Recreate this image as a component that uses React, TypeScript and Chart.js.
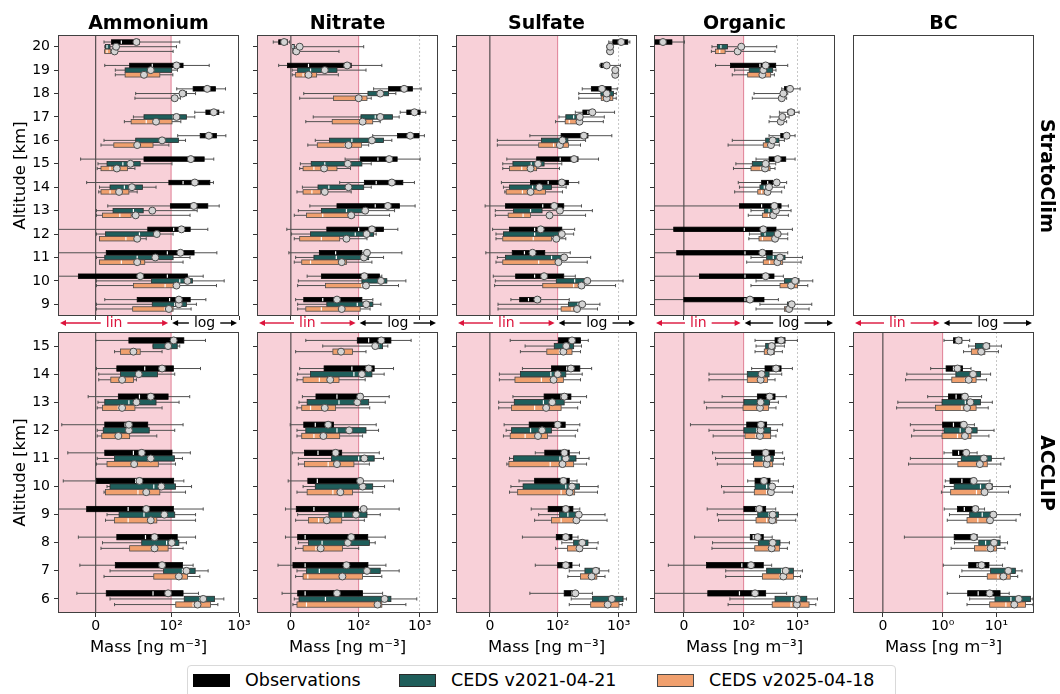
import React, { useEffect, useRef } from "react";
import { Chart, registerables } from "chart.js";

Chart.register(...registerables);

const FONT = "'DejaVu Sans', 'Liberation Sans', sans-serif";
Chart.defaults.font.family = FONT;
Chart.defaults.color = "#000";

// ---------------- data ----------------
const ALT_SC = [20, 19, 18, 17, 16, 15, 14, 13, 12, 11, 10, 9];
const ALT_AC = [15, 14, 13, 12, 11, 10, 9, 8, 7, 6];

const SPECIES = ["Ammonium", "Nitrate", "Sulfate", "Organic", "BC"];
const CAMPAIGNS = ["StratoClim", "ACCLIP"];
const SERIES = ["Observations", "CEDS v2021-04-21", "CEDS v2025-04-18"];
const SERIES_COLORS = ["#000000", "#1f5e5b", "#f0a06e"];
const SERIES_EDGE = ["#000000", "#2a2a2a", "#4a4a4a"];

const LIN_THRESHOLD = [100, 100, 100, 100, 1];
const X_MIN = [-50, -50, -50, -50, -0.5];
const X_MAX = [1000, 2000, 2000, 5000, 50];
const X_TICK_VALUES = [
  [0, 100, 1000],
  [0, 100, 1000],
  [0, 100, 1000],
  [0, 100, 1000],
  [0, 1, 10],
];
const X_TICK_LABELS = [
  ["0", "10²", "10³"],
  ["0", "10²", "10³"],
  ["0", "10²", "10³"],
  ["0", "10²", "10³"],
  ["0", "10⁰", "10¹"],
];
const X_TITLE = "Mass [ng m⁻³]";
const Y_TITLE = "Altitude [km]";

// each row: [whisker low, q1, median, q3, whisker high, mean]
// ---- Ammonium, StratoClim (20 -> 9 km)
const AMM_SC_OBS = [
  [11, 21, 34, 58, 134, 54], [12, 45, 75, 150, 364, 120], [121, 211, 340, 451, 633, 340],
  [223, 325, 416, 505, 598, 425], [125, 268, 351, 466, 640, 360], [-20, 64, 195, 307, 425, 195],
  [-12, 97, 150, 372, 420, 223], [16, 99, 206, 347, 511, 216], [-200, 69, 109, 191, 347, 142],
  [-200, 14, 95, 218, 472, 137], [-200, -23, 95, 174, 297, 59], [12, 55, 98, 191, 325, 130],
];
const AMM_SC_V21 = [
  [12, 13, 15, 19, 120, 27], [26, 39, 72, 102, 124, 73], [53, 134, 147, 168, 229, 147],
  [50, 64, 107, 168, 223, 120], [11, 53, 85, 128, 163, 88], [3, 15, 36, 59, 103, 46],
  [5, 19, 38, 62, 80, 48], [1, 23, 50, 63, 242, 75], [1, 13, 58, 81, 107, 81],
  [1, 12, 55, 107, 190, 79], [1, 74, 134, 206, 605, 174], [1, 75, 113, 168, 236, 130],
];
const AMM_SC_V25 = [
  [12, 12, 15, 20, 107, 25], [26, 39, 63, 85, 106, 64], [52, 102, 112, 123, 137, 113],
  [38, 47, 67, 103, 139, 80], [7, 24, 55, 76, 97, 55], [2, 7, 19, 42, 52, 28],
  [4, 7, 19, 44, 55, 31], [1, 9, 32, 47, 190, 53], [5, 5, 40, 58, 67, 55],
  [5, 5, 34, 65, 150, 55], [1, 50, 92, 127, 466, 120], [1, 49, 92, 107, 197, 97],
];
// ---- Ammonium, ACCLIP (15 -> 6 km)
const AMM_AC_OBS = [
  [0, 44, 107, 154, 321, 109], [1, 28, 65, 108, 271, 88], [-10, 30, 58, 96, 188, 73],
  [-45, 12, 39, 69, 150, 44], [-37, 12, 50, 103, 192, 61], [-43, 1, 53, 109, 154, 58],
  [-100, -12, 43, 108, 297, 67], [-23, 28, 66, 123, 229, 78], [-21, 26, 89, 147, 211, 88],
  [-25, 14, 76, 150, 253, 96],
];
const AMM_AC_V21 = [
  [76, 76, 96, 123, 134, 96], [4, 33, 54, 82, 113, 57], [3, 12, 44, 80, 131, 54],
  [2, 10, 43, 71, 113, 44], [2, 25, 69, 112, 147, 73], [15, 19, 77, 116, 200, 87],
  [15, 31, 64, 113, 229, 91], [9, 61, 94, 130, 168, 102], [19, 90, 147, 226, 351, 168],
  [19, 156, 265, 436, 598, 297],
];
const AMM_AC_V25 = [
  [25, 33, 49, 59, 88, 50], [4, 20, 35, 50, 54, 35], [2, 9, 30, 52, 88, 35],
  [2, 8, 27, 45, 81, 30], [1, 15, 52, 83, 116, 51], [11, 13, 56, 85, 163, 67],
  [13, 25, 43, 81, 229, 73], [7, 45, 74, 96, 150, 78], [11, 77, 127, 174, 265, 130],
  [25, 117, 211, 380, 488, 245],
];
// ---- Nitrate, StratoClim
const NIT_SC_OBS = [
  [-26, -18, -10, -5, -2, -10], [-18, -5, 26, 89, 240, 83], [176, 309, 543, 762, 1057, 557],
  [480, 616, 822, 1018, 1260, 822], [170, 434, 656, 980, 1197, 700], [80, 106, 207, 428, 1018, 317],
  [72, 124, 194, 530, 822, 350], [28, 68, 187, 468, 843, 301], [-6, 53, 100, 256, 439, 165],
  [-3, 42, 66, 113, 511, 137], [24, 45, 113, 220, 240, 124], [7, 19, 47, 113, 171, 68],
];
const NIT_SC_V21 = [
  [2, 2, 3, 5, 121, 13], [2, 10, 29, 68, 132, 50], [19, 142, 212, 309, 407, 226],
  [33, 109, 187, 359, 462, 226], [36, 57, 90, 256, 350, 165], [14, 30, 50, 113, 161, 84],
  [17, 40, 56, 121, 161, 85], [11, 45, 82, 128, 388, 128], [1, 29, 95, 176, 194, 135],
  [7, 34, 67, 146, 256, 122], [11, 113, 232, 290, 595, 232], [10, 53, 98, 171, 232, 133],
];
const NIT_SC_V25 = [
  [3, 3, 4, 7, 71, 8], [2, 7, 18, 38, 70, 26], [13, 63, 100, 137, 161, 100],
  [22, 61, 113, 170, 226, 116], [25, 39, 80, 111, 146, 85], [13, 18, 34, 68, 88, 49],
  [9, 18, 31, 44, 89, 50], [5, 23, 47, 94, 321, 89], [5, 13, 45, 72, 137, 82],
  [5, 16, 29, 82, 165, 75], [10, 51, 113, 146, 450, 132], [10, 22, 45, 106, 154, 75],
];
// ---- Nitrate, ACCLIP
const NIT_AC_OBS = [
  [22, 98, 146, 338, 725, 235], [13, 49, 90, 180, 373, 146], [17, 37, 68, 116, 317, 106],
  [-1, 19, 36, 63, 194, 55], [2, 20, 40, 75, 218, 66], [-4, 25, 39, 106, 373, 106],
  [-8, 8, 34, 100, 462, 121], [-8, 10, 21, 141, 273, 89], [-19, 3, 21, 142, 280, 82],
  [-13, 10, 21, 116, 247, 68],
];
const NIT_AC_V21 = [
  [47, 176, 212, 247, 301, 187], [10, 29, 93, 165, 262, 113], [12, 24, 71, 146, 273, 98],
  [9, 22, 68, 132, 212, 86], [11, 60, 100, 180, 256, 124], [18, 36, 106, 170, 266, 116],
  [10, 56, 77, 137, 226, 96], [11, 26, 46, 150, 187, 84], [9, 23, 42, 226, 462, 137],
  [5, 12, 51, 338, 898, 266],
];
const NIT_AC_V25 = [
  [7, 62, 75, 91, 132, 74], [9, 18, 42, 71, 128, 58], [9, 16, 29, 66, 152, 50],
  [9, 16, 34, 72, 116, 48], [11, 20, 55, 93, 150, 68], [9, 24, 62, 91, 170, 73],
  [7, 26, 41, 75, 124, 53], [7, 18, 37, 76, 100, 44], [7, 18, 25, 116, 240, 76],
  [3, 9, 23, 240, 595, 204],
];
// ---- Sulfate, StratoClim
const SUL_SC_OBS = [
  [689, 803, 1040, 1413, 1528, 1100], [493, 512, 561, 582, 1066, 637], [253, 357, 532, 753, 950, 532],
  [195, 259, 314, 396, 857, 371], [59, 114, 253, 314, 773, 269], [25, 69, 110, 216, 468, 186],
  [17, 60, 86, 150, 222, 117], [-7, 23, 78, 126, 246, 95], [4, 29, 66, 117, 190, 75],
  [-6, 33, 51, 81, 161, 63], [5, 38, 66, 126, 195, 80], [31, 44, 57, 75, 155, 70],
];
const SUL_SC_V21 = [
  [640, 690, 720, 750, 800, 725], [860, 880, 900, 920, 950, 880], [222, 512, 637, 824, 914, 637],
  [105, 136, 183, 208, 582, 231], [11, 76, 110, 147, 287, 120], [19, 34, 61, 80, 117, 71],
  [20, 29, 63, 91, 138, 73], [8, 35, 60, 77, 371, 109], [9, 20, 66, 114, 183, 117],
  [11, 23, 91, 124, 348, 128], [8, 98, 190, 287, 1182, 306], [12, 150, 216, 253, 493, 253],
];
const SUL_SC_V25 = [
  [640, 690, 720, 750, 800, 725], [860, 880, 900, 920, 950, 880], [222, 519, 637, 803, 914, 637],
  [97, 133, 155, 203, 561, 228], [11, 72, 94, 150, 237, 109], [19, 29, 47, 69, 107, 60],
  [22, 24, 48, 82, 120, 60], [8, 27, 49, 60, 287, 88], [9, 19, 64, 91, 136, 98],
  [9, 19, 72, 99, 306, 103], [7, 78, 183, 276, 890, 246], [12, 114, 172, 190, 450, 208],
];
// ---- Sulfate, ACCLIP
const SUL_AC_OBS = [
  [30, 103, 167, 237, 318, 172], [48, 91, 141, 231, 361, 165], [34, 80, 114, 165, 298, 129],
  [21, 58, 99, 133, 231, 100], [67, 81, 128, 155, 228, 129], [43, 66, 114, 155, 208, 124],
  [61, 86, 136, 178, 231, 136], [48, 98, 133, 172, 216, 136], [67, 100, 124, 172, 228, 136],
  [59, 128, 172, 200, 371, 195],
];
const SUL_AC_V21 = [
  [52, 95, 136, 183, 246, 138], [14, 45, 90, 136, 253, 100], [13, 36, 79, 128, 237, 92],
  [24, 32, 60, 91, 213, 77], [29, 35, 109, 200, 327, 136], [31, 49, 136, 228, 461, 172],
  [72, 107, 147, 228, 598, 222], [117, 183, 253, 314, 461, 253], [155, 280, 406, 481, 689, 423],
  [167, 371, 734, 1182, 1344, 773],
];
const SUL_AC_V25 = [
  [45, 84, 107, 172, 237, 124], [14, 37, 76, 124, 237, 94], [13, 32, 66, 114, 213, 83],
  [20, 30, 52, 85, 195, 71], [25, 28, 89, 183, 298, 120], [29, 41, 114, 190, 450, 157],
  [66, 91, 114, 216, 646, 203], [97, 145, 203, 253, 439, 228], [147, 237, 335, 439, 598, 361],
  [155, 348, 637, 1013, 1150, 661],
];
// ---- Organic, StratoClim
const ORG_SC_OBS = [
  [-60, -52, -38, -20, 1, -35], [53, 78, 201, 395, 661, 257], [511, 573, 661, 784, 1122, 730],
  [462, 661, 730, 879, 1074, 762], [297, 490, 589, 710, 905, 631], [170, 297, 443, 607, 905, 430],
  [91, 216, 280, 347, 631, 412], [-200, 93, 216, 497, 679, 373], [-200, -17, 103, 400, 807, 232],
  [-200, -12, 106, 340, 661, 223], [-200, 26, 106, 367, 548, 257], [-200, 0, 106, 239, 443, 131],
];
const ORG_SC_V21 = [
  [47, 56, 62, 73, 412, 96], [85, 127, 216, 347, 400, 232], [156, 511, 548, 607, 661, 548],
  [310, 475, 525, 589, 700, 525], [81, 257, 332, 455, 573, 347], [87, 145, 232, 297, 395, 257],
  [93, 201, 242, 297, 573, 297], [137, 242, 297, 340, 762, 400], [128, 210, 250, 384, 661, 430],
  [137, 268, 356, 589, 1240, 475], [170, 573, 842, 1074, 1931, 905], [201, 651, 730, 784, 1849, 784],
];
const ORG_SC_V25 = [
  [46, 53, 60, 69, 384, 90], [81, 119, 207, 318, 373, 223], [145, 475, 511, 548, 631, 511],
  [297, 443, 482, 548, 631, 490], [74, 232, 280, 356, 462, 322], [83, 137, 210, 310, 384, 250],
  [85, 183, 216, 262, 511, 278], [122, 223, 290, 340, 679, 356], [125, 193, 223, 356, 661, 384],
  [114, 232, 304, 532, 1170, 424], [137, 475, 730, 1000, 1558, 762], [170, 573, 679, 784, 1649, 700],
];
// ---- Organic, ACCLIP
const ORG_AC_OBS = [
  [163, 384, 475, 589, 1000, 497], [141, 250, 356, 497, 807, 400], [64, 180, 290, 384, 620, 304],
  [11, 114, 201, 268, 532, 210], [48, 141, 239, 373, 532, 257], [119, 163, 239, 310, 443, 239],
  [39, 101, 170, 257, 395, 196], [18, 133, 151, 232, 340, 183], [-26, 38, 97, 232, 332, 137],
  [-200, 40, 93, 257, 631, 163],
];
const ORG_AC_V21 = [
  [170, 257, 310, 384, 573, 332], [42, 117, 196, 297, 511, 216], [34, 101, 188, 304, 443, 207],
  [42, 101, 176, 318, 424, 207], [53, 158, 232, 356, 573, 280], [63, 163, 268, 310, 842, 340],
  [56, 183, 297, 443, 1000, 347], [48, 188, 310, 475, 710, 347], [70, 268, 511, 842, 1240, 607],
  [77, 384, 784, 1493, 2359, 1000],
];
const ORG_AC_V25 = [
  [163, 242, 290, 373, 525, 318], [42, 117, 183, 278, 384, 207], [38, 99, 183, 290, 400, 201],
  [49, 106, 170, 318, 400, 201], [56, 152, 232, 347, 548, 268], [67, 158, 268, 297, 807, 322],
  [58, 170, 268, 412, 930, 340], [47, 161, 290, 462, 651, 332], [70, 223, 475, 842, 1140, 548],
  [74, 340, 762, 1649, 2200, 974],
];
// ---- BC, ACCLIP
const BC_AC_OBS = [
  [1.06, 1.59, 1.89, 2.28, 3.18, 1.98], [0.8, 1.16, 1.59, 2.35, 3.37, 1.89], [0.75, 1.28, 1.78, 2.84, 5.3, 2.6],
  [0.46, 1.0, 1.59, 2.64, 3.9, 2.48], [1.06, 1.54, 1.98, 2.96, 4.38, 2.75], [1.12, 1.37, 2.28, 4.07, 7.6, 3.79],
  [1.07, 1.89, 2.53, 4.51, 6.02, 4.07], [0.36, 1.64, 3.52, 4.38, 11.7, 3.79], [1.03, 3.05, 4.38, 7.26, 13, 5.3],
  [1.22, 2.92, 4.58, 11.7, 17.3, 7.5],
];
const BC_AC_V21 = [
  [3.05, 4.07, 5.85, 7.5, 12.4, 6.47], [0.4, 1.76, 3.52, 5.06, 7.8, 3.68], [0.25, 0.99, 2.64, 5.06, 8.4, 3.28],
  [0.52, 1.06, 2.12, 4.38, 9.04, 3.05], [0.46, 2.22, 5.85, 8.05, 13.9, 5.85], [1.07, 1.64, 5.06, 8.4, 18.1, 7.26],
  [1.34, 3.18, 5.45, 9.7, 27.8, 8.77], [1.66, 4.7, 6.3, 11.7, 16.1, 9.04], [2.28, 7.8, 15, 22.5, 30, 16.6],
  [3.18, 9.4, 18.6, 43, 48, 26],
];
const BC_AC_V25 = [
  [2.45, 3.42, 5.06, 6.1, 10.9, 5.2], [0.38, 1.48, 2.64, 4.19, 6.56, 3.05], [0.23, 0.88, 2.28, 4.19, 7.05, 2.84],
  [0.48, 0.99, 1.89, 3.37, 7.26, 2.6], [0.43, 1.92, 4.38, 6.76, 12.1, 4.92], [0.98, 1.41, 4.26, 6.76, 16.8, 6.02],
  [1.22, 2.84, 4.51, 8.4, 23.2, 7.6], [1.44, 3.9, 6.76, 10.1, 14.4, 7.8], [2.06, 6.76, 10.7, 18.1, 24.9, 13.5],
  [2.84, 7.5, 15, 34.7, 48, 21.5],
];

const PANELS_SC = [
  [AMM_SC_OBS, AMM_SC_V21, AMM_SC_V25],
  [NIT_SC_OBS, NIT_SC_V21, NIT_SC_V25],
  [SUL_SC_OBS, SUL_SC_V21, SUL_SC_V25],
  [ORG_SC_OBS, ORG_SC_V21, ORG_SC_V25],
  null,
];
const PANELS_AC = [
  [AMM_AC_OBS, AMM_AC_V21, AMM_AC_V25],
  [NIT_AC_OBS, NIT_AC_V21, NIT_AC_V25],
  [SUL_AC_OBS, SUL_AC_V21, SUL_AC_V25],
  [ORG_AC_OBS, ORG_AC_V21, ORG_AC_V25],
  [BC_AC_OBS, BC_AC_V21, BC_AC_V25],
];

// ---------------- layout / style ----------------
const SERIES_OFFSET = [0.2, 0, -0.2];
const BOX_HALF = 0.095;
const LOG_STRETCH = 0.9;
const PANEL_LEFT = [58, 257, 456, 654, 853];
const PANEL_W = 181;
const PANEL_H = 281;
const CRIMSON = "#dc143c";

function toAxis(v: number, T: number) {
  return v <= T ? v / T : 1 + LOG_STRETCH * Math.log10(v / T);
}

function geom(col: number, row: number) {
  const Lw = col === 0 ? 58 : 12;
  const R = 16;
  const padTop = row === 0 ? 35 : 16;
  const padBottom = row === 0 ? 16 : 50;
  const top = row === 0 ? 0 : 332 - 16;
  return {
    left: PANEL_LEFT[col] - Lw,
    top,
    w: Lw + PANEL_W + R,
    h: padTop + PANEL_H + padBottom,
    Lw,
    R,
    padTop,
    padBottom,
  };
}

function arrowLabel(ctx: CanvasRenderingContext2D, xa: number, xb: number, yy: number, text: string, color: string) {
  ctx.save();
  ctx.font = `14px ${FONT}`;
  ctx.fillStyle = color;
  ctx.strokeStyle = color;
  ctx.lineWidth = 1.4;
  ctx.textAlign = "center";
  ctx.textBaseline = "middle";
  const cx = (xa + xb) / 2;
  const w = ctx.measureText(text).width;
  const gap = 5;
  ctx.fillText(text, cx, yy);
  ctx.beginPath();
  ctx.moveTo(xa + 4, yy);
  ctx.lineTo(cx - w / 2 - gap, yy);
  ctx.stroke();
  ctx.beginPath();
  ctx.moveTo(xa, yy);
  ctx.lineTo(xa + 6, yy - 3);
  ctx.lineTo(xa + 6, yy + 3);
  ctx.closePath();
  ctx.fill();
  ctx.beginPath();
  ctx.moveTo(cx + w / 2 + gap, yy);
  ctx.lineTo(xb - 4, yy);
  ctx.stroke();
  ctx.beginPath();
  ctx.moveTo(xb, yy);
  ctx.lineTo(xb - 6, yy - 3);
  ctx.lineTo(xb - 6, yy + 3);
  ctx.closePath();
  ctx.fill();
  ctx.restore();
}

function makeDecor(col: number, row: number, series: number[][][] | null, alts: number[]) {
  const T = LIN_THRESHOLD[col];
  return {
    id: "decor",
    beforeDatasetsDraw(chart: any) {
      const { ctx, chartArea: a, scales } = chart;
      const x = scales.x;
      const y = scales.y;
      if (!series) return;
      ctx.save();
      const xt = x.getPixelForValue(1);
      ctx.fillStyle = "rgba(220,20,60,0.2)";
      ctx.fillRect(a.left, a.top, xt - a.left, a.bottom - a.top);
      const xd = x.getPixelForValue(toAxis(10 * T, T));
      if (xd < a.right - 2) {
        ctx.strokeStyle = "#b8b8b8";
        ctx.lineWidth = 0.8;
        ctx.setLineDash([2, 2]);
        ctx.beginPath();
        ctx.moveTo(xd, a.top);
        ctx.lineTo(xd, a.bottom);
        ctx.stroke();
        ctx.setLineDash([]);
      }
      const x0 = x.getPixelForValue(0);
      ctx.strokeStyle = "#333";
      ctx.lineWidth = 1;
      ctx.beginPath();
      ctx.moveTo(x0, a.top);
      ctx.lineTo(x0, a.bottom);
      ctx.stroke();
      ctx.strokeStyle = "rgba(200,30,70,0.5)";
      ctx.beginPath();
      ctx.moveTo(xt, a.top);
      ctx.lineTo(xt, a.bottom);
      ctx.stroke();

      ctx.beginPath();
      ctx.rect(a.left, a.top, a.right - a.left, a.bottom - a.top);
      ctx.clip();
      series.forEach((rows, si) => {
        rows.forEach((r, i) => {
          const yv = alts[i] + SERIES_OFFSET[si];
          const yc = y.getPixelForValue(yv);
          const yt = y.getPixelForValue(yv + BOX_HALF);
          const yb = y.getPixelForValue(yv - BOX_HALF);
          const [lo, q1, med, q3, hi] = r.slice(0, 5).map((v) => x.getPixelForValue(toAxis(v, T)));
          ctx.strokeStyle = "#505050";
          ctx.lineWidth = 1;
          ctx.beginPath();
          ctx.moveTo(lo, yc);
          ctx.lineTo(q1, yc);
          ctx.moveTo(q3, yc);
          ctx.lineTo(hi, yc);
          ctx.moveTo(lo, yc - 1.6);
          ctx.lineTo(lo, yc + 1.6);
          ctx.moveTo(hi, yc - 1.6);
          ctx.lineTo(hi, yc + 1.6);
          ctx.stroke();
          ctx.fillStyle = SERIES_COLORS[si];
          ctx.fillRect(q1, yt, q3 - q1, yb - yt);
          ctx.strokeStyle = SERIES_EDGE[si];
          ctx.lineWidth = 0.8;
          ctx.strokeRect(q1, yt, q3 - q1, yb - yt);
          ctx.strokeStyle = "#ffffff";
          ctx.lineWidth = 1.2;
          ctx.beginPath();
          ctx.moveTo(med, yt + 0.6);
          ctx.lineTo(med, yb - 0.6);
          ctx.stroke();
        });
      });
      ctx.restore();
    },
    afterDatasetsDraw(chart: any) {
      const { ctx, chartArea: a } = chart;
      ctx.save();
      ctx.strokeStyle = "#404040";
      ctx.lineWidth = 1;
      ctx.strokeRect(a.left + 0.5, a.top + 0.5, a.right - a.left - 1, a.bottom - a.top - 1);
      ctx.restore();
    },
    afterDraw(chart: any) {
      if (row !== 0) return;
      const { ctx, chartArea: a, scales } = chart;
      const xt = scales.x.getPixelForValue(1);
      const yy = a.bottom + 7;
      arrowLabel(ctx, a.left + 2, xt - 3, yy, "lin", CRIMSON);
      arrowLabel(ctx, xt + 1, a.right - 2, yy, "log", "#000");
    },
  };
}

function Panel({ col, row }: { col: number; row: number }) {
  const ref = useRef<HTMLCanvasElement | null>(null);
  const g = geom(col, row);
  useEffect(() => {
    const T = LIN_THRESHOLD[col];
    const alts = row === 0 ? ALT_SC : ALT_AC;
    const series = (row === 0 ? PANELS_SC : PANELS_AC)[col];
    const hasData = !!series;
    const datasets = series
      ? series.map((rows, si) => ({
          label: SERIES[si],
          data: rows.map((r, i) => ({ x: toAxis(r[5], T), y: alts[i] + SERIES_OFFSET[si] })),
          pointRadius: 3.5,
          pointBackgroundColor: "#d4d4d4",
          pointBorderColor: "#4a4a4a",
          pointBorderWidth: 1,
          showLine: false,
        }))
      : [];
    const tickVals = X_TICK_VALUES[col].map((v) => toAxis(v, T));
    const chart = new Chart(ref.current as HTMLCanvasElement, {
      type: "scatter",
      data: { datasets },
      options: {
        responsive: false,
        animation: false,
        events: [],
        layout: { padding: { left: 0, right: g.R, top: row === 0 ? g.padTop - 30.8 : g.padTop, bottom: 0 } },
        plugins: {
          legend: { display: false },
          tooltip: { enabled: false },
          title: {
            display: row === 0,
            text: SPECIES[col],
            fullSize: false,
            color: "#000",
            font: { family: FONT, size: 19, weight: "bold" },
            padding: { top: 8, bottom: 0 },
          },
        },
        scales: {
          x: {
            type: "linear",
            min: toAxis(X_MIN[col], T),
            max: toAxis(X_MAX[col], T),
            afterBuildTicks: (s: any) => {
              s.ticks = tickVals.map((v) => ({ value: v }));
            },
            afterFit: (s: any) => {
              s.height = g.padBottom;
            },
            ticks: {
              display: row === 1,
              autoSkip: false,
              maxRotation: 0,
              padding: 1,
              color: "#000",
              font: { family: FONT, size: 14 },
              callback: (_v: any, i: number) => X_TICK_LABELS[col][i],
            },
            grid: { display: hasData, drawOnChartArea: false, drawTicks: true, tickLength: 4, color: "#333" },
            border: { display: false },
            title: {
              display: row === 1,
              text: X_TITLE,
              color: "#000",
              font: { family: FONT, size: 16.5 },
              padding: { top: 0, bottom: 5 },
            },
          },
          y: {
            type: "linear",
            min: Math.min(...alts) - 0.5,
            max: Math.max(...alts) + 0.5,
            afterBuildTicks: (s: any) => {
              s.ticks = alts.map((v) => ({ value: v }));
            },
            afterFit: (s: any) => {
              s.width = g.Lw;
            },
            ticks: {
              display: col === 0,
              autoSkip: false,
              padding: 4,
              color: "#000",
              font: { family: FONT, size: 14 },
              callback: (v: any) => String(v),
            },
            grid: { display: hasData, drawOnChartArea: false, drawTicks: true, tickLength: 4, color: "#333" },
            border: { display: false },
            title: {
              display: col === 0,
              text: Y_TITLE,
              color: "#000",
              font: { family: FONT, size: 16.5 },
              padding: { top: 11, bottom: 0 },
            },
          },
        },
      },
      plugins: [makeDecor(col, row, series, alts)],
    } as any);
    return () => chart.destroy();
  }, [col, row]);
  return (
    <canvas
      ref={ref}
      width={g.w}
      height={g.h}
      style={{ position: "absolute", left: g.left, top: g.top, width: g.w, height: g.h }}
    />
  );
}

const LEGEND_BOX_X = [193, 399, 657];

export default function App() {
  const cells: any[] = [];
  for (let row = 0; row < 2; row++) {
    for (let col = 0; col < 5; col++) {
      cells.push(<Panel key={`${row}-${col}`} col={col} row={row} />);
    }
  }
  return (
    <div
      style={{
        position: "absolute",
        left: 0,
        top: 0,
        width: 1060,
        height: 694,
        overflow: "hidden",
        background: "#fff",
        fontFamily: FONT,
      }}
    >
      {cells}
      {CAMPAIGNS.map((name, i) => (
        <div
          key={name}
          style={{
            position: "absolute",
            left: 1048,
            top: i === 0 ? 175.5 : 472.5,
            transform: "translate(-50%, -50%) rotate(90deg)",
            fontWeight: "bold",
            fontSize: 19,
            whiteSpace: "nowrap",
            color: "#000",
          }}
        >
          {name}
        </div>
      ))}
      <div
        style={{
          position: "absolute",
          left: 187,
          top: 665,
          width: 709,
          height: 40,
          border: "1px solid #d9d9d9",
          borderRadius: 4,
          boxSizing: "border-box",
        }}
      />
      {SERIES.map((name, i) => (
        <React.Fragment key={name}>
          <div
            style={{
              position: "absolute",
              left: LEGEND_BOX_X[i],
              top: 674,
              width: 37,
              height: 13,
              background: SERIES_COLORS[i],
              border: `1px solid ${SERIES_EDGE[i]}`,
              boxSizing: "border-box",
            }}
          />
          <div
            style={{
              position: "absolute",
              left: LEGEND_BOX_X[i] + 52,
              top: 669,
              height: 22,
              lineHeight: "22px",
              fontSize: 17.5,
              whiteSpace: "nowrap",
              color: "#000",
            }}
          >
            {name}
          </div>
        </React.Fragment>
      ))}
    </div>
  );
}
